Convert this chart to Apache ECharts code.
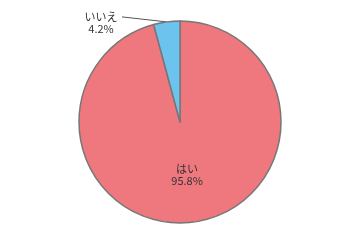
<!DOCTYPE html>
<html><head><meta charset="utf-8">
<script src="https://cdn.jsdelivr.net/npm/echarts@6/dist/echarts.min.js"></script>
<style>html,body{margin:0;padding:0;background:#fff}#c{width:360px;height:240px}</style>
</head><body><div id="c"></div>
<script>
const categories = ['はい', 'いいえ'];
const values = [95.8, 4.2];
const colors = ['#EE787D', '#6CC4EE'];

const chart = echarts.init(document.getElementById('c'));
const data = categories.map((n, i) => {
  const d = { name: n, value: values[i], itemStyle: { color: colors[i] } };
  if (i === 0) {
    d.label = { position: 'inside', formatter: '{b}\n{c}%', lineHeight: 12 };
    d.labelLine = { show: false };
  } else {
    d.label = {
      position: 'outside',
      formatter: '{a|{b}}\n{a|{c}%}',
      padding: [12, 0, 0, 0],
      rich: { a: { width: 32, align: 'center', fontSize: 11, color: '#333', lineHeight: 12, fontFamily: 'Noto Sans CJK JP' } }
    };
    d.labelLine = { show: true, length: 5, length2: 44, lineStyle: { color: '#555', width: 1 } };
  }
  return d;
});
chart.setOption({
  animation: false,
  series: [{
    type: 'pie',
    center: [180, 122],
    radius: 101,
    startAngle: 90,
    clockwise: true,
    data: data,
    itemStyle: { borderColor: '#777', borderWidth: 1.5 },
    label: { fontSize: 11, color: '#333', fontFamily: 'Noto Sans CJK JP' },
    labelLayout: function (p) {
      if (p.dataIndex === 1 && p.labelLinePoints) {
        const pts = p.labelLinePoints;
        return { labelLinePoints: [pts[0], pts[0], pts[2]] };
      }
      return {};
    },
    emphasis: { disabled: true }
  }]
});
</script></body></html>
